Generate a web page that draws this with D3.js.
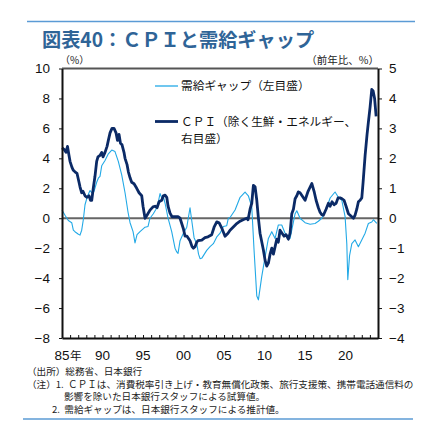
<!DOCTYPE html>
<html><head><meta charset="utf-8">
<script src="https://cdn.jsdelivr.net/npm/d3@7"></script>
<style>body{margin:0;background:#fff}svg{display:block}</style>
</head><body><svg id="c" width="442" height="422"></svg>
<script>
// 需給ギャップ (left axis, %)
const gapYears = [1985.00,1985.37,1985.78,1986.20,1986.40,1986.60,1986.98,1987.22,1987.43,1987.63,1987.84,1988.05,1988.25,1988.46,1988.70,1988.95,1989.28,1989.51,1989.69,1989.90,1990.31,1990.72,1991.14,1991.54,1991.95,1992.37,1992.78,1993.15,1993.40,1993.77,1994.01,1994.26,1994.63,1995.25,1995.62,1995.86,1996.27,1996.60,1996.85,1997.10,1997.35,1997.51,1997.72,1998.09,1998.54,1998.95,1999.16,1999.32,1999.57,1999.98,2000.40,2000.80,2001.05,2001.30,2001.63,2001.85,2002.04,2002.28,2002.86,2003.27,2003.68,2004.10,2004.51,2004.91,2005.33,2005.53,2005.74,2006.36,2006.98,2007.59,2008.00,2008.42,2008.70,2009.04,2009.24,2009.65,2010.06,2010.47,2010.89,2011.30,2011.70,2012.12,2012.53,2013.15,2013.77,2013.98,2014.38,2015.00,2015.62,2016.23,2016.64,2017.06,2017.68,2018.09,2018.70,2019.11,2019.53,2019.94,2020.15,2020.27,2020.49,2020.77,2021.17,2021.58,2022.04,2022.41,2022.81,2023.23,2023.43,2023.85];
const gapValues = [0.55,0.2,-0.15,-0.3,-0.8,-0.9,-1.05,-1.13,-0.8,-0.1,0.9,1.3,1.6,1.85,1.7,1.8,2.4,2.7,2.8,3.5,3.85,4.3,4.55,4.45,3.8,2.9,1.7,0.4,-0.3,-0.9,-1.65,-1.1,-0.9,-0.6,-0.55,0.0,0.3,0.6,1.0,1.65,1.3,1.45,1.0,0.0,-0.9,-2.0,-2.25,-2.35,-1.5,-1.0,-0.6,0.7,-0.3,-1.3,-1.7,-2.4,-2.7,-2.65,-2.15,-1.9,-1.7,-1.25,-1.0,-0.55,-0.5,0.0,0.05,0.55,1.4,1.75,1.5,0.76,-2.1,-5.2,-5.45,-3.9,-2.6,-1.35,-0.9,-1.35,-0.45,-0.45,-1.0,-1.35,0.3,0.5,0.0,-0.3,-0.4,-0.35,-0.2,0.0,0.7,1.35,1.75,1.4,1.2,0.1,-1.7,-4.1,-2.5,-1.7,-1.45,-1.9,-1.4,-1.0,-0.35,-0.25,-0.1,-0.35];
// CPI 除く生鮮・エネルギー (right axis, 前年比 %)
const cpiYears = [1985.00,1985.25,1985.49,1985.68,1985.86,1985.99,1986.23,1986.40,1986.60,1986.85,1987.10,1987.22,1987.43,1987.59,1987.84,1988.09,1988.33,1988.52,1988.67,1988.86,1989.07,1989.28,1989.44,1989.69,1989.90,1990.06,1990.31,1990.56,1990.72,1990.93,1991.17,1991.42,1991.67,1991.85,1992.04,1992.22,1992.41,1992.65,1992.78,1993.02,1993.19,1993.40,1993.60,1993.89,1994.22,1994.51,1994.84,1995.00,1995.25,1995.49,1995.86,1996.23,1996.48,1996.73,1996.98,1997.31,1997.51,1997.72,1997.93,1998.09,1998.33,1998.58,1998.95,1999.32,1999.57,1999.98,2000.19,2000.43,2000.80,2001.05,2001.21,2001.42,2001.63,2001.79,2002.25,2002.65,2003.02,2003.48,2003.77,2004.10,2004.38,2004.75,2005.12,2005.49,2005.74,2006.11,2006.48,2006.98,2007.35,2007.80,2007.96,2008.21,2008.42,2008.62,2008.83,2009.04,2009.24,2009.44,2009.85,2010.06,2010.27,2010.47,2010.68,2010.89,2011.09,2011.30,2011.51,2011.70,2011.91,2012.16,2012.41,2012.65,2012.94,2013.15,2013.36,2013.56,2013.77,2013.98,2014.17,2014.38,2014.63,2015.00,2015.37,2015.83,2016.11,2016.36,2016.64,2016.85,2017.06,2017.26,2017.59,2017.88,2018.09,2018.33,2018.58,2018.83,2019.07,2019.32,2019.57,2019.81,2020.06,2020.35,2020.56,2020.96,2021.17,2021.38,2021.58,2021.79,2022.00,2022.16,2022.41,2022.65,2022.81,2023.02,2023.23,2023.40,2023.58,2023.77];
const cpiValues = [2.35,2.3,2.2,2.4,2.1,1.9,1.7,1.6,1.55,1.5,1.2,1.05,0.85,0.9,0.75,0.7,0.75,0.6,0.6,1.0,1.4,1.9,2.05,2.1,2.2,2.05,2.2,2.4,2.6,2.85,3.0,3.0,2.85,2.6,2.8,2.5,2.45,2.2,2.0,1.8,1.55,1.35,1.2,1.15,1.0,0.85,0.75,0.4,0.0,0.1,0.27,0.38,0.4,0.35,0.55,0.6,0.75,0.77,0.7,0.4,0.17,0.05,0.05,0.05,0.0,-0.35,-0.6,-0.6,-0.75,-0.95,-1.0,-0.95,-0.8,-0.75,-0.73,-0.65,-0.62,-0.55,-0.3,-0.12,-0.15,-0.35,-0.6,-0.5,-0.4,-0.3,-0.2,-0.1,-0.05,0.0,-0.05,0.3,0.5,1.1,1.05,0.6,0.0,-0.5,-1.05,-1.4,-1.6,-1.5,-1.2,-1.0,-1.2,-0.95,-0.7,-0.8,-0.4,-0.5,-0.6,-0.55,-0.7,-0.5,0.15,0.3,0.65,0.75,0.88,0.85,0.75,0.6,0.9,1.16,0.9,0.6,0.35,0.2,0.12,0.1,0.3,0.5,0.4,0.55,0.45,0.5,0.68,0.68,0.65,0.6,0.4,0.15,0.1,0.0,0.1,0.3,0.55,0.6,0.68,1.2,2.1,2.8,3.2,3.7,4.3,4.25,4.0,3.4];

const leftTicks = [10,8,6,4,2,0,-2,-4,-6,-8];
const rightTicks = [5,4,3,2,1,0,-1,-2,-3,-4];
const xLabelYears = [1985,1990,1995,2000,2005,2010,2015,2020];
const xLabels = ["85","90","95","00","05","10","15","20"];
const tickYears = d3.range(1986, 2024);

const title = "図表40：ＣＰＩと需給ギャップ";
const legendGap = "需給ギャップ（左目盛）";
const legendCpi1 = "ＣＰＩ（除く生鮮・エネルギー、";
const legendCpi2 = "右目盛）";
const unitLeft = "（%）";
const unitRight = "（前年比、%）";
const notes = [
  "（出所）総務省、日本銀行",
  "（注）1.  ＣＰＩは、消費税率引き上げ・教育無償化政策、旅行支援策、携帯電話通信料の",
  "影響を除いた日本銀行スタッフによる試算値。",
  "2.  需給ギャップは、日本銀行スタッフによる推計値。"
];

const LIGHT = "#22a9e6", DARK = "#0b2a66";
const JP = "'Noto Sans CJK JP','Noto Sans',sans-serif";
const NUM = "'Liberation Sans',Arial,sans-serif";

const svg = d3.select("#c");
const L = 62, R = 378, T = 68.5, B = 338;
const x = d3.scaleLinear().domain([1985, 2024]).range([L, R]);
const yL = d3.scaleLinear().domain([-8, 10]).range([B, T]);
const yR = d3.scaleLinear().domain([-4, 5]).range([B, T]);

// top / bottom decorative rules
svg.append("line").attr("x1",27).attr("x2",415).attr("y1",21.5).attr("y2",21.5).attr("stroke","#5b9bd5").attr("stroke-width",1.5);
svg.append("line").attr("x1",23).attr("x2",413).attr("y1",419).attr("y2",419).attr("stroke","#5b9bd5").attr("stroke-width",1.5);

svg.append("text").attr("x",42).attr("y",47).attr("font-family",JP).attr("font-weight","bold")
  .attr("font-size",19.2).attr("fill","#2f6497").text(title);

// units
svg.append("text").attr("x",60).attr("y",64).attr("font-family",JP).attr("font-size",10).attr("fill","#222").text(unitLeft);
svg.append("text").attr("x",379).attr("y",64).attr("text-anchor","end").attr("font-family",JP).attr("font-size",10.5).attr("fill","#222").text(unitRight);

// zero line
svg.append("line").attr("x1",L).attr("x2",R).attr("y1",yL(0)).attr("y2",yL(0)).attr("stroke","#666").attr("stroke-width",2);

// lines
const gapData = gapYears.map((d,i)=>[d,gapValues[i]]);
const cpiData = cpiYears.map((d,i)=>[d,cpiValues[i]]);
svg.append("path").datum(gapData).attr("fill","none").attr("stroke",LIGHT).attr("stroke-width",1.1)
  .attr("stroke-linejoin","round").attr("d", d3.line().x(d=>x(d[0])).y(d=>yL(d[1])));
svg.append("path").datum(cpiData).attr("fill","none").attr("stroke",DARK).attr("stroke-width",2.8)
  .attr("stroke-linejoin","round").attr("d", d3.line().x(d=>x(d[0])).y(d=>yR(d[1])));

// frame
svg.append("line").attr("x1",L).attr("x2",R).attr("y1",T).attr("y2",T).attr("stroke","#555").attr("stroke-width",2);

// axes
const axL = svg.append("g").attr("transform",`translate(${L},0)`)
  .call(d3.axisLeft(yL).tickValues(leftTicks).tickSize(3).tickSizeOuter(0).tickPadding(9)
    .tickFormat(d=> d<0 ? "−"+Math.abs(d) : d));
const axR = svg.append("g").attr("transform",`translate(${R},0)`)
  .call(d3.axisRight(yR).tickValues(rightTicks).tickSize(4).tickSizeOuter(0).tickPadding(7)
    .tickFormat(d=> d<0 ? "−"+Math.abs(d) : d));
const axB = svg.append("g").attr("transform",`translate(0,${B})`)
  .call(d3.axisTop(x).tickValues(tickYears).tickSize(3).tickSizeOuter(0).tickFormat(""));
[axL,axR,axB].forEach(g=>{
  g.select(".domain").attr("stroke","#111").attr("stroke-width",2);
  g.selectAll(".tick line").attr("stroke","#111").attr("stroke-width",1);
  g.selectAll("text").attr("font-family",NUM).attr("font-size",13.5).attr("fill","#111");
});

// x labels
const xl = svg.append("g");
xLabels.forEach((lab,i)=>{
  xl.append("text").attr("x", x(xLabelYears[i])).attr("y",360)
    .attr("text-anchor","middle").attr("font-family",NUM).attr("font-size",13.5).attr("fill","#111").text(lab);
  if(i===0){
    xl.append("text").attr("x", x(xLabelYears[i])+8).attr("y",360).attr("font-family",JP).attr("font-size",11.5).attr("fill","#111").text("年");
  }
});

// legend
const lg = svg.append("g");
lg.append("line").attr("x1",155).attr("x2",178).attr("y1",86).attr("y2",86).attr("stroke",LIGHT).attr("stroke-width",1.3);
lg.append("text").attr("x",181).attr("y",90).attr("font-family",JP).attr("font-size",11.7).attr("fill","#111").text(legendGap);
lg.append("line").attr("x1",155).attr("x2",178).attr("y1",121.5).attr("y2",121.5).attr("stroke",DARK).attr("stroke-width",2.8);
lg.append("text").attr("x",181).attr("y",125.5).attr("font-family",JP).attr("font-size",11.7).attr("fill","#111").text(legendCpi1);
lg.append("text").attr("x",181).attr("y",142.5).attr("font-family",JP).attr("font-size",11.7).attr("fill","#111").text(legendCpi2);

// notes
const nx = [27,27,64,52], ny = [374.5,387.5,400,413];
notes.forEach((n,i)=>{
  svg.append("text").attr("x",nx[i]).attr("y",ny[i]).attr("font-family",JP).attr("font-size",9.6).attr("fill","#222")
    .style("white-space","pre").text(n);
});
</script></body></html>
